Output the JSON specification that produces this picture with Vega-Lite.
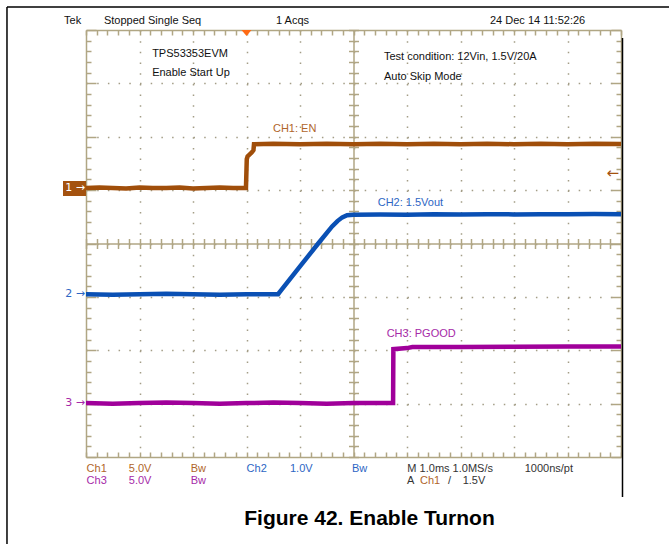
{
  "$schema": "https://vega.github.io/schema/vega-lite/v6.json",
  "width": 535,
  "height": 427,
  "autosize": {"type": "none"},
  "padding": {"left": 86, "top": 30, "right": 48, "bottom": 87},
  "background": "white",
  "config": {"view": {"stroke": null}},
  "resolve": {"axis": {"x": "independent", "y": "independent"}},
  "datasets": {
    "ch1": [
      {"t": -3.0, "v": 1.04}, {"t": -2.75, "v": 1.05}, {"t": -2.5, "v": 1.04}, {"t": -2.25, "v": 1.03},
      {"t": -2.0, "v": 1.05}, {"t": -1.75, "v": 1.04}, {"t": -1.5, "v": 1.04}, {"t": -1.25, "v": 1.05},
      {"t": -1.0, "v": 1.03}, {"t": -0.75, "v": 1.04}, {"t": -0.5, "v": 1.05}, {"t": -0.25, "v": 1.04},
      {"t": -0.01, "v": 1.04}, {"t": 0.005, "v": 1.58}, {"t": 0.02, "v": 1.63}, {"t": 0.1, "v": 1.71},
      {"t": 0.13, "v": 1.75}, {"t": 0.14, "v": 1.86}, {"t": 0.5, "v": 1.87}, {"t": 1.0, "v": 1.86},
      {"t": 1.5, "v": 1.87}, {"t": 2.0, "v": 1.86}, {"t": 2.5, "v": 1.87}, {"t": 3.0, "v": 1.86},
      {"t": 3.5, "v": 1.87}, {"t": 4.0, "v": 1.86}, {"t": 4.5, "v": 1.87}, {"t": 5.0, "v": 1.86},
      {"t": 5.5, "v": 1.87}, {"t": 6.0, "v": 1.86}, {"t": 6.5, "v": 1.87}, {"t": 7.0, "v": 1.865}
    ],
    "ch2": [
      {"t": -3.0, "v": -0.95}, {"t": -2.5, "v": -0.96}, {"t": -2.0, "v": -0.95}, {"t": -1.5, "v": -0.94},
      {"t": -1.0, "v": -0.95}, {"t": -0.5, "v": -0.96}, {"t": 0.0, "v": -0.95}, {"t": 0.3, "v": -0.95},
      {"t": 0.59, "v": -0.95}, {"t": 0.62, "v": -0.91}, {"t": 1.0, "v": -0.43}, {"t": 1.34, "v": 0.0},
      {"t": 1.6, "v": 0.32}, {"t": 1.7, "v": 0.42}, {"t": 1.79, "v": 0.49}, {"t": 1.88, "v": 0.53},
      {"t": 2.0, "v": 0.54}, {"t": 2.5, "v": 0.545}, {"t": 3.0, "v": 0.54}, {"t": 3.5, "v": 0.55},
      {"t": 4.0, "v": 0.545}, {"t": 4.5, "v": 0.55}, {"t": 5.0, "v": 0.545}, {"t": 5.5, "v": 0.55},
      {"t": 6.0, "v": 0.55}, {"t": 6.5, "v": 0.555}, {"t": 7.0, "v": 0.55}
    ],
    "ch3": [
      {"t": -3.0, "v": -2.99}, {"t": -2.5, "v": -3.0}, {"t": -2.0, "v": -2.99}, {"t": -1.5, "v": -2.98},
      {"t": -1.0, "v": -2.99}, {"t": -0.5, "v": -3.0}, {"t": 0.0, "v": -2.99}, {"t": 0.5, "v": -2.98},
      {"t": 1.0, "v": -2.99}, {"t": 1.5, "v": -3.0}, {"t": 2.0, "v": -2.99}, {"t": 2.5, "v": -2.99},
      {"t": 2.74, "v": -2.99}, {"t": 2.745, "v": -1.98}, {"t": 3.0, "v": -1.96}, {"t": 3.1, "v": -1.94},
      {"t": 4.0, "v": -1.94}, {"t": 5.0, "v": -1.935}, {"t": 6.0, "v": -1.93}, {"t": 7.0, "v": -1.93}
    ],
    "labels": [
      {"t": -3.411, "v": 4.112, "label": "Tek", "ch": "k"},
      {"t": -2.664, "v": 4.112, "label": "Stopped  Single Seq", "ch": "k"},
      {"t": 0.551, "v": 4.112, "label": "1 Acqs", "ch": "k"},
      {"t": 4.551, "v": 4.112, "label": "24 Dec 14 11:52:26", "ch": "k"},
      {"t": -1.764, "v": 3.494, "label": "TPS53353EVM", "ch": "k"},
      {"t": -1.764, "v": 3.138, "label": "Enable Start Up", "ch": "k"},
      {"t": 2.57, "v": 3.44, "label": "Test condition: 12Vin, 1.5V/20A", "ch": "k"},
      {"t": 2.57, "v": 3.06, "label": "Auto Skip Mode", "ch": "k"},
      {"t": 0.495, "v": 2.087, "label": "CH1: EN", "ch": "ch1"},
      {"t": 2.452, "v": 0.702, "label": "CH2: 1.5Vout", "ch": "ch2"},
      {"t": 2.62, "v": -1.746, "label": "CH3: PGOOD", "ch": "ch3"},
      {"t": -2.989, "v": -4.275, "label": "Ch1", "ch": "ch1"},
      {"t": -2.2, "v": -4.275, "label": "5.0V", "ch": "ch1"},
      {"t": -1.043, "v": -4.275, "label": "Bw", "ch": "ch1"},
      {"t": 0.002, "v": -4.275, "label": "Ch2", "ch": "ch2"},
      {"t": 0.813, "v": -4.275, "label": "1.0V", "ch": "ch2"},
      {"t": 1.972, "v": -4.275, "label": "Bw", "ch": "ch2"},
      {"t": 3.007, "v": -4.275, "label": "M 1.0ms 1.0MS/s", "ch": "g"},
      {"t": 5.2, "v": -4.275, "label": "1000ns/pt", "ch": "g"},
      {"t": -2.989, "v": -4.511, "label": "Ch3", "ch": "ch3"},
      {"t": -2.2, "v": -4.511, "label": "5.0V", "ch": "ch3"},
      {"t": -1.043, "v": -4.511, "label": "Bw", "ch": "ch3"},
      {"t": 3.0, "v": -4.511, "label": "A", "ch": "g"},
      {"t": 3.243, "v": -4.511, "label": "Ch1", "ch": "ch1"},
      {"t": 3.766, "v": -4.511, "label": "/", "ch": "g"},
      {"t": 4.041, "v": -4.511, "label": "1.5V", "ch": "g"}
    ],
    "markers": [
      {"t": -3.0, "v": -0.952, "label": "2 →", "ch": "ch2"},
      {"t": -3.0, "v": -2.994, "label": "3 →", "ch": "ch3"}
    ]
  },
  "layer": [
    {
      "data": {"name": "markers"},
      "mark": {"type": "text", "align": "right", "baseline": "middle", "dx": -1, "font": "DejaVu Sans", "fontSize": 11},
      "encoding": {
        "x": {"field": "t", "type": "quantitative", "scale": {"domain": [-3, 7], "nice": false, "zero": false},
          "axis": {"orient": "bottom", "title": null, "labels": false, "domain": false, "ticks": false, "grid": true,
            "values": [-2, -1, 0, 1, 2, 3, 4, 5, 6], "gridColor": "#a39d86", "gridWidth": 1.5, "gridDash": [1.5, 9.175], "zindex": 0}},
        "y": {"field": "v", "type": "quantitative", "scale": {"domain": [-4, 4], "nice": false, "zero": false},
          "axis": {"orient": "left", "title": null, "labels": false, "domain": false, "ticks": false, "grid": true,
            "values": [-3, -2, -1, 0, 1, 2, 3], "gridColor": "#a39d86", "gridWidth": 1.5, "gridDash": [1.5, 9.2], "zindex": 0}},
        "text": {"field": "label"},
        "color": {"field": "ch", "type": "nominal", "legend": null,
          "scale": {"domain": ["ch1", "ch2", "ch3", "k", "g"], "range": ["#b0652a", "#2d66c4", "#a62aa8", "#111111", "#333333"]}}
      }
    },
    {
      "data": {"name": "ch1"},
      "mark": {"type": "line", "color": "#a04e0a", "strokeWidth": 4.5},
      "encoding": {
        "x": {"field": "t", "type": "quantitative",
          "axis": {"orient": "top", "offset": -427, "title": null, "labels": false, "grid": false,
            "domain": true, "domainColor": "#b0a684", "domainWidth": 1.5,
            "ticks": true, "tickColor": "#b0a684", "tickWidth": 1.5, "tickSize": 5,
            "values": [-3,-2.8,-2.6,-2.4,-2.2,-2,-1.8,-1.6,-1.4,-1.2,-1,-0.8,-0.6,-0.4,-0.2,0,0.2,0.4,0.6,0.8,1,1.2,1.4,1.6,1.8,2,2.2,2.4,2.6,2.8,3,3.2,3.4,3.6,3.8,4,4.2,4.4,4.6,4.8,5,5.2,5.4,5.6,5.8,6,6.2,6.4,6.6,6.8,7], "zindex": 0}},
        "y": {"field": "v", "type": "quantitative",
          "axis": {"orient": "right", "offset": -535, "title": null, "labels": false, "grid": false,
            "domain": true, "domainColor": "#b0a684", "domainWidth": 1.5,
            "ticks": true, "tickColor": "#b0a684", "tickWidth": 1.5,
            "tickSize": {"condition": {"test": "datum.value % 1 === 0", "value": 10}, "value": 5},
            "values": [-4,-3.8,-3.6,-3.4,-3.2,-3,-2.8,-2.6,-2.4,-2.2,-2,-1.8,-1.6,-1.4,-1.2,-1,-0.8,-0.6,-0.4,-0.2,0,0.2,0.4,0.6,0.8,1,1.2,1.4,1.6,1.8,2,2.2,2.4,2.6,2.8,3,3.2,3.4,3.6,3.8,4], "zindex": 0}}
      }
    },
    {
      "data": {"name": "ch2"},
      "mark": {"type": "line", "color": "#0a50b4", "strokeWidth": 4.5},
      "encoding": {
        "x": {"field": "t", "type": "quantitative",
          "axis": {"orient": "bottom", "offset": -427, "title": null, "labels": false, "grid": false,
            "domain": true, "domainColor": "#b0a684", "domainWidth": 1.5,
            "ticks": true, "tickColor": "#b0a684", "tickWidth": 1.5, "tickSize": 5,
            "values": [-3,-2.8,-2.6,-2.4,-2.2,-2,-1.8,-1.6,-1.4,-1.2,-1,-0.8,-0.6,-0.4,-0.2,0,0.2,0.4,0.6,0.8,1,1.2,1.4,1.6,1.8,2,2.2,2.4,2.6,2.8,3,3.2,3.4,3.6,3.8,4,4.2,4.4,4.6,4.8,5,5.2,5.4,5.6,5.8,6,6.2,6.4,6.6,6.8,7], "zindex": 0}},
        "y": {"field": "v", "type": "quantitative",
          "axis": {"orient": "left", "offset": -535, "title": null, "labels": false, "grid": false,
            "domain": true, "domainColor": "#b0a684", "domainWidth": 1.5,
            "ticks": true, "tickColor": "#b0a684", "tickWidth": 1.5,
            "tickSize": {"condition": {"test": "datum.value % 1 === 0", "value": 10}, "value": 5},
            "values": [-4,-3.8,-3.6,-3.4,-3.2,-3,-2.8,-2.6,-2.4,-2.2,-2,-1.8,-1.6,-1.4,-1.2,-1,-0.8,-0.6,-0.4,-0.2,0,0.2,0.4,0.6,0.8,1,1.2,1.4,1.6,1.8,2,2.2,2.4,2.6,2.8,3,3.2,3.4,3.6,3.8,4], "zindex": 0}}
      }
    },
    {
      "data": {"name": "ch3"},
      "mark": {"type": "line", "color": "#a0009a", "strokeWidth": 4.5},
      "encoding": {
        "x": {"field": "t", "type": "quantitative",
          "axis": {"orient": "bottom", "offset": -213.5, "title": null, "labels": false, "grid": false,
            "domain": true, "domainColor": "#b0a684", "domainWidth": 1.5,
            "ticks": true, "tickColor": "#b0a684", "tickWidth": 1.5, "tickSize": 5,
            "values": [-3,-2.8,-2.6,-2.4,-2.2,-2,-1.8,-1.6,-1.4,-1.2,-1,-0.8,-0.6,-0.4,-0.2,0,0.2,0.4,0.6,0.8,1,1.2,1.4,1.6,1.8,2,2.2,2.4,2.6,2.8,3,3.2,3.4,3.6,3.8,4,4.2,4.4,4.6,4.8,5,5.2,5.4,5.6,5.8,6,6.2,6.4,6.6,6.8,7], "zindex": 0}},
        "y": {"field": "v", "type": "quantitative",
          "axis": {"orient": "left", "offset": -267.5, "title": null, "labels": false, "grid": false,
            "domain": true, "domainColor": "#b0a684", "domainWidth": 1.5,
            "ticks": true, "tickColor": "#b0a684", "tickWidth": 1.5, "tickSize": 5,
            "values": [-4,-3.8,-3.6,-3.4,-3.2,-3,-2.8,-2.6,-2.4,-2.2,-2,-1.8,-1.6,-1.4,-1.2,-1,-0.8,-0.6,-0.4,-0.2,0,0.2,0.4,0.6,0.8,1,1.2,1.4,1.6,1.8,2,2.2,2.4,2.6,2.8,3,3.2,3.4,3.6,3.8,4], "zindex": 0}}
      }
    },
    {
      "data": {"name": "labels"},
      "mark": {"type": "text", "align": "left", "baseline": "alphabetic", "font": "Liberation Sans", "fontSize": 11},
      "encoding": {
        "x": {"field": "t", "type": "quantitative",
          "axis": {"orient": "top", "offset": -213.5, "title": null, "labels": false, "grid": false,
            "domain": false, "ticks": true, "tickColor": "#b0a684", "tickWidth": 1.5, "tickSize": 5,
            "values": [-3,-2.8,-2.6,-2.4,-2.2,-2,-1.8,-1.6,-1.4,-1.2,-1,-0.8,-0.6,-0.4,-0.2,0,0.2,0.4,0.6,0.8,1,1.2,1.4,1.6,1.8,2,2.2,2.4,2.6,2.8,3,3.2,3.4,3.6,3.8,4,4.2,4.4,4.6,4.8,5,5.2,5.4,5.6,5.8,6,6.2,6.4,6.6,6.8,7], "zindex": 0}},
        "y": {"field": "v", "type": "quantitative",
          "axis": {"orient": "right", "offset": -267.5, "title": null, "labels": false, "grid": false,
            "domain": false, "ticks": true, "tickColor": "#b0a684", "tickWidth": 1.5, "tickSize": 5,
            "values": [-4,-3.8,-3.6,-3.4,-3.2,-3,-2.8,-2.6,-2.4,-2.2,-2,-1.8,-1.6,-1.4,-1.2,-1,-0.8,-0.6,-0.4,-0.2,0,0.2,0.4,0.6,0.8,1,1.2,1.4,1.6,1.8,2,2.2,2.4,2.6,2.8,3,3.2,3.4,3.6,3.8,4], "zindex": 0}},
        "text": {"field": "label"},
        "color": {"field": "ch", "type": "nominal", "legend": null}
      }
    },
    {
      "data": {"values": [{}]},
      "mark": {"type": "text", "align": "right", "baseline": "middle", "dx": -2, "color": "#a4520f", "font": "DejaVu Sans", "fontSize": 15, "text": "←"},
      "encoding": {
        "x": {"datum": 7.0, "type": "quantitative", "axis": null},
        "y": {"datum": 1.326, "type": "quantitative", "axis": null}
      }
    },
    {
      "data": {"values": [{}]},
      "mark": {"type": "rect", "color": "#a4520f"},
      "encoding": {
        "x": {"datum": -3.43, "type": "quantitative", "axis": null},
        "x2": {"datum": -3.0},
        "y": {"datum": 0.89, "type": "quantitative", "axis": null},
        "y2": {"datum": 1.171}
      }
    },
    {
      "data": {"values": [{}]},
      "mark": {"type": "text", "align": "right", "baseline": "middle", "dx": -1, "color": "white", "font": "DejaVu Sans", "fontSize": 11, "text": "1 →"},
      "encoding": {
        "x": {"datum": -3.0, "type": "quantitative", "axis": null},
        "y": {"datum": 1.04, "type": "quantitative", "axis": null}
      }
    },
    {
      "data": {"values": [{}]},
      "mark": {"type": "point", "filled": true, "opacity": 1, "color": "#ff6a13", "shape": "M-1,-0.6L1,-0.6L0,0.6Z", "size": 100, "yOffset": 3},
      "encoding": {
        "x": {"datum": 0, "type": "quantitative", "axis": null},
        "y": {"datum": 4, "type": "quantitative", "axis": null}
      }
    },
    {
      "data": {"values": [{}]},
      "mark": {"type": "text", "align": "center", "baseline": "alphabetic", "font": "Liberation Sans", "fontWeight": "bold", "fontSize": 21, "color": "black", "text": "Figure 42. Enable Turnon"},
      "encoding": {
        "x": {"datum": 2.299, "type": "quantitative", "axis": null},
        "y": {"datum": -5.274, "type": "quantitative", "axis": null}
      }
    },
    {
      "data": {"values": [{}]},
      "mark": {"type": "rule", "color": "black", "strokeWidth": 1.5},
      "encoding": {
        "x": {"datum": -4.477, "type": "quantitative", "axis": null},
        "y": {"datum": -5.8, "type": "quantitative", "axis": null},
        "y2": {"datum": 4.431}
      }
    },
    {
      "data": {"values": [{}]},
      "mark": {"type": "rule", "color": "black", "strokeWidth": 1.5},
      "encoding": {
        "x": {"datum": -4.477, "type": "quantitative", "axis": null},
        "x2": {"datum": 7.95},
        "y": {"datum": 4.431, "type": "quantitative", "axis": null}
      }
    },
    {
      "data": {"values": [{}]},
      "mark": {"type": "rule", "color": "black", "strokeWidth": 1.5},
      "encoding": {
        "x": {"datum": 7.028, "type": "quantitative", "axis": null},
        "y": {"datum": 3.85, "type": "quantitative", "axis": null},
        "y2": {"datum": -4.749}
      }
    }
  ]
}
